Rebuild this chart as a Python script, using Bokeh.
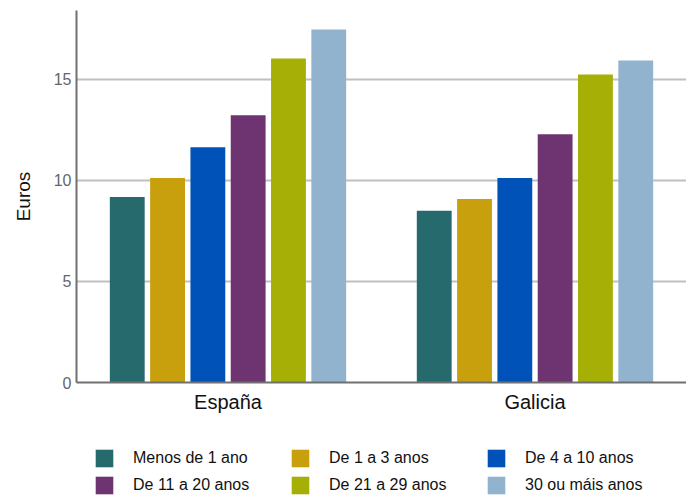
from bokeh.plotting import figure
from bokeh.layouts import column
from bokeh.models import ColumnDataSource, FactorRange, Range1d, Legend, LegendItem, FixedTicker
from bokeh.transform import dodge
from bokeh.embed import file_html
from bokeh.resources import INLINE

groups = ["España", "Galicia"]
series = ["Menos de 1 ano", "De 1 a 3 anos", "De 4 a 10 anos",
          "De 11 a 20 anos", "De 21 a 29 anos", "30 ou máis anos"]
menos_1 = [9.18, 8.49]
de_1_3 = [10.11, 9.08]
de_4_10 = [11.64, 10.11]
de_11_20 = [13.22, 12.28]
de_21_29 = [16.03, 15.24]
mais_30 = [17.46, 15.93]
yticks = [0, 5, 10, 15]

colors = ["#276a6e", "#c89f0c", "#0052b8", "#6e3471", "#a5af06", "#92b3cd"]
keys = ["s0", "s1", "s2", "s3", "s4", "s5"]

src = ColumnDataSource(dict(group=groups, s0=menos_1, s1=de_1_3, s2=de_4_10,
                            s3=de_11_20, s4=de_21_29, s5=mais_30))

FONT = "Liberation Sans"

p = figure(width=686, height=415, output_backend="svg", toolbar_location=None,
           x_range=FactorRange(*groups, range_padding=0, factor_padding=0.013),
           y_range=Range1d(0, 18.4),
           min_border_left=76, min_border_right=0, min_border_top=10,
           min_border_bottom=32)
p.outline_line_color = None
p.background_fill_color = "white"

pitch = 0.133
bw = 0.115
for i, k in enumerate(keys):
    off = (i - 2.5) * pitch
    p.vbar(x=dodge("group", off, range=p.x_range), top=k, width=bw,
           source=src, fill_color=colors[i], line_color=None)

p.xgrid.grid_line_color = None
p.ygrid.grid_line_color = "#c0c0c0"
p.ygrid.grid_line_width = 2

p.yaxis.ticker = FixedTicker(ticks=yticks)
p.yaxis.axis_label = "Euros"
p.yaxis.axis_label_text_font = FONT
p.yaxis.axis_label_text_font_size = "19px"
p.yaxis.axis_label_text_font_style = "normal"
p.yaxis.axis_label_text_color = "#111111"
p.yaxis.axis_label_standoff = 17
p.yaxis.major_label_text_font = FONT
p.yaxis.major_label_text_font_size = "16px"
p.yaxis.major_label_text_color = "#666666"
p.yaxis.major_label_standoff = 5
p.yaxis.major_tick_out = 0
p.yaxis.major_tick_in = 0
p.yaxis.major_tick_line_color = None
p.yaxis.minor_tick_line_color = None
p.yaxis.axis_line_color = "#707070"
p.yaxis.axis_line_width = 2

p.xaxis.major_label_text_font = FONT
p.xaxis.major_label_text_font_size = "20px"
p.xaxis.major_label_text_color = "#111111"
p.xaxis.major_label_standoff = 8
p.xaxis.major_tick_out = 0
p.xaxis.major_tick_in = 0
p.xaxis.major_tick_line_color = None
p.xaxis.minor_tick_line_color = None
p.xaxis.axis_line_color = "#707070"
p.xaxis.axis_line_width = 2

# legend panel below the chart
pl = figure(width=686, height=81, output_backend="svg", toolbar_location=None,
            x_range=Range1d(0, 1), y_range=Range1d(0, 1),
            x_axis_type=None, y_axis_type=None,
            min_border=0, min_border_left=0, min_border_right=0,
            min_border_top=0, min_border_bottom=0)
pl.outline_line_color = None
pl.grid.grid_line_color = None

swatches = []
for i in range(6):
    # zero-size bar: only its legend swatch is seen
    r = pl.vbar(x=[0.5], top=[0], bottom=[0], width=0, fill_color=colors[i],
                line_color=None)
    swatches.append(r)

items = [LegendItem(label=series[i], renderers=[swatches[i]]) for i in range(6)]
legend = Legend(items=items, orientation="horizontal", ncols=3, location=(17, 0),
                background_fill_alpha=0, border_line_color=None,
                label_text_font=FONT, label_text_font_size="16px",
                label_text_color="#111111", padding=0, margin=0, spacing=5,
                glyph_width=22, glyph_height=22, label_height=22,
                label_width=151, label_standoff=18)
pl.add_layout(legend)

layout = column(p, pl)
open("out.html", "w").write(file_html(layout, INLINE))
